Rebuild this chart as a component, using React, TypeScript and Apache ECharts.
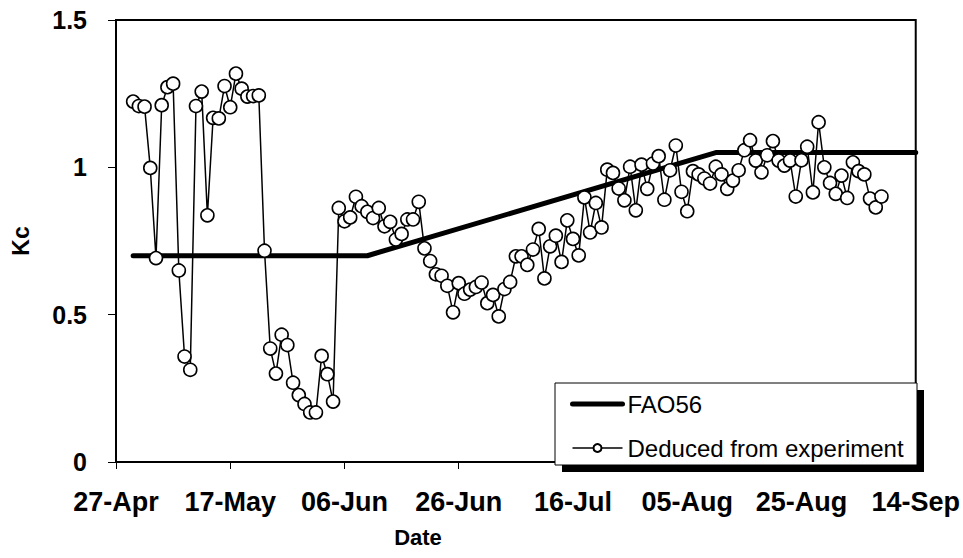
import React, { useEffect, useRef } from "react";
import * as echarts from "echarts";

// Day offsets counted from 27-Apr (day 0)
const xTickLabels = ["27-Apr", "17-May", "06-Jun", "26-Jun", "16-Jul", "05-Aug", "25-Aug", "14-Sep"];
const yTicks = [0, 0.5, 1, 1.5];

// FAO56 Kc curve: [day, Kc]
const faoDays = [3, 44, 105, 140];
const faoKc = [0.7, 0.7, 1.05, 1.05];

// Daily Kc deduced from experiment, starting on day 3 (30-Apr)
const expStartDay = 3;
const expKc = [
  1.223, 1.208, 1.206, 0.998, 0.692, 1.211, 1.272, 1.284, 0.650, 0.358,
  0.313, 1.208, 1.257, 0.837, 1.168, 1.166, 1.276, 1.204, 1.318, 1.267,
  1.240, 1.242, 1.244, 0.717, 0.385, 0.300, 0.432, 0.397, 0.269, 0.227,
  0.197, 0.168, 0.168, 0.360, 0.298, 0.205, 0.862, 0.817, 0.830, 0.900,
  0.868, 0.849, 0.828, 0.862, 0.800, 0.815, 0.755, 0.774, 0.823, 0.823,
  0.883, 0.725, 0.682, 0.637, 0.632, 0.598, 0.508, 0.607, 0.571, 0.585,
  0.594, 0.609, 0.539, 0.567, 0.494, 0.587, 0.611, 0.698, 0.698, 0.669,
  0.721, 0.791, 0.623, 0.732, 0.768, 0.679, 0.820, 0.757, 0.701, 0.898,
  0.779, 0.879, 0.796, 0.992, 0.981, 0.928, 0.888, 1.002, 0.854, 1.009,
  0.927, 1.013, 1.038, 0.890, 0.990, 1.074, 0.917, 0.851, 0.987, 0.976,
  0.962, 0.945, 1.002, 0.976, 0.927, 0.955, 0.990, 1.058, 1.092, 1.023,
  0.983, 1.041, 1.089, 1.023, 1.006, 1.023, 0.901, 1.024, 1.070, 0.915,
  1.153, 1.000, 0.947, 0.910, 0.972, 0.896, 1.017, 0.987, 0.976, 0.894,
  0.864, 0.901,
];

const FONT = "'Liberation Sans', Arial, Helvetica, sans-serif";

export default function App() {
  const ref = useRef<HTMLDivElement>(null);

  useEffect(() => {
    if (!ref.current) return;
    const chart = echarts.init(ref.current, null, { renderer: "svg" });

    const faoData = faoDays.map((d, i) => [d, faoKc[i]]);
    const expData = expKc.map((v, i) => [expStartDay + i, v]);

    chart.setOption({
      animation: false,
      backgroundColor: "#ffffff",
      grid: {
        left: 116,
        right: 47,
        top: 20,
        bottom: 96,
        show: true,
        borderColor: "#000",
        borderWidth: 2,
        backgroundColor: "transparent",
      },
      xAxis: {
        type: "value",
        min: 0,
        max: 140,
        interval: 20,
        axisLine: { show: true, lineStyle: { color: "#000", width: 2 } },
        axisTick: { show: true, length: 7, lineStyle: { color: "#000", width: 1 } },
        axisLabel: {
          margin: 26,
          fontFamily: FONT,
          fontWeight: "bold",
          fontSize: 27,
          color: "#000",
          formatter: (v: number) => xTickLabels[Math.round(v / 20)] ?? "",
        },
        splitLine: { show: false },
      },
      yAxis: {
        type: "value",
        min: yTicks[0],
        max: yTicks[yTicks.length - 1],
        interval: 0.5,
        name: "Kc",
        nameLocation: "middle",
        nameRotate: 90,
        nameGap: 84,
        nameTextStyle: { fontFamily: FONT, fontWeight: "bold", fontSize: 23, color: "#000" },
        axisLine: { show: true, lineStyle: { color: "#000", width: 2 } },
        axisTick: { show: true, length: 8, lineStyle: { color: "#000", width: 1 } },
        axisLabel: {
          margin: 29,
          fontFamily: FONT,
          fontWeight: "bold",
          fontSize: 25,
          color: "#000",
        },
        splitLine: { show: false },
      },
      legend: {
        orient: "vertical",
        left: 570,
        top: 392,
        padding: 0,
        itemWidth: 50,
        itemHeight: 10,
        itemGap: 20,
        z: 20,
        textStyle: { fontFamily: FONT, fontSize: 24, color: "#000", lineHeight: 24 },
        data: [
          { name: "FAO56", itemStyle: { opacity: 0 }, lineStyle: { width: 5, color: "#000" } },
          { name: "Deduced from experiment", lineStyle: { width: 1.5, color: "#000" } },
        ],
      },
      graphic: [
        {
          type: "rect",
          z: 15,
          shape: { x: 562, y: 390, width: 362, height: 82 },
          style: { fill: "#000" },
        },
        {
          type: "rect",
          z: 16,
          shape: { x: 555, y: 383, width: 362, height: 82 },
          style: { fill: "#fff", stroke: "#000", lineWidth: 1 },
        },
        {
          type: "text",
          z: 16,
          x: 418,
          y: 537,
          style: {
            text: "Date",
            fontFamily: FONT,
            fontWeight: "bold",
            fontSize: 22,
            fill: "#000",
            align: "center",
            verticalAlign: "middle",
          },
        },
      ],
      series: [
        {
          name: "FAO56",
          type: "line",
          data: faoData,
          symbol: "none",
          lineStyle: { color: "#000", width: 5, cap: "round", join: "round" },
          itemStyle: { color: "#000" },
          z: 3,
        },
        {
          name: "Deduced from experiment",
          type: "line",
          data: expData,
          symbol: "circle",
          symbolSize: 13,
          lineStyle: { color: "#000", width: 1.5 },
          itemStyle: { color: "#fff", borderColor: "#000", borderWidth: 1.6 },
          z: 4,
        },
      ],
    });

    return () => chart.dispose();
  }, []);

  return <div ref={ref} style={{ width: 963, height: 558, position: "absolute", left: 0, top: 0 }} />;
}
